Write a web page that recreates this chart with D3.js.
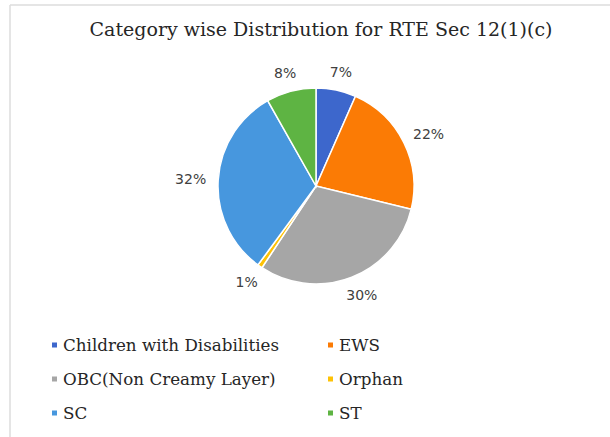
<!DOCTYPE html>
<html><head><meta charset="utf-8">
<script src="https://cdn.jsdelivr.net/npm/d3@7"></script>
<style>html,body{margin:0;padding:0;background:#fff;}</style>
</head><body>
<svg id="chart" width="610" height="437"></svg>
<script>
const categories = ["Children with Disabilities","EWS","OBC(Non Creamy Layer)","Orphan","SC","ST"];
const values = [6.6, 22.2, 30.5, 0.8, 31.7, 8.2];
const labels = ["7%","22%","30%","1%","32%","8%"];
const colors = ["#3d67cc","#fb7b05","#a6a6a6","#fec205","#4797de","#5eb443"];
const title = "Category wise Distribution for RTE Sec 12(1)(c)";

const svg = d3.select("#chart");
// frame
svg.append("line").attr("x1",10).attr("y1",5).attr("x2",610).attr("y2",5).attr("stroke","#dcdcdc").attr("stroke-width",1.5);
svg.append("line").attr("x1",10).attr("y1",5).attr("x2",10).attr("y2",437).attr("stroke","#dcdcdc").attr("stroke-width",1.5);

const t = svg.append("text").attr("x",321).attr("y",36).attr("text-anchor","middle")
  .attr("font-family","DejaVu Serif, serif").attr("font-size",16).attr("fill","#262626").text(title);
const tw = t.node().getComputedTextLength();
t.attr("font-size", 16*463/tw);

const cx=316, cy=186, r=98;
const pie = d3.pie().sort(null).value(d=>d.v);
const data = pie(categories.map((c,i)=>({c, v:values[i], l:labels[i], col:colors[i]})));
const arc = d3.arc().innerRadius(0).outerRadius(r);
const g = svg.append("g").attr("transform",`translate(${cx},${cy})`);
g.selectAll("path").data(data).join("path").attr("d",arc)
  .attr("fill",d=>d.data.col).attr("stroke","#fff").attr("stroke-width",1.5);

const lab = g.selectAll("text").data(data).join("text")
  .attr("text-anchor","middle").attr("dy","0.36em")
  .attr("font-family","DejaVu Sans, sans-serif").attr("font-size",14).attr("fill","#404040")
  .text(d=>d.data.l);
lab.each(function(d){
  const w = this.getComputedTextLength(), h = 14;
  const a = (d.startAngle+d.endAngle)/2, s=Math.sin(a), c=Math.cos(a), R=r+12;
  const x = R*s + (w/2)*s, y = -R*c - (h/2)*c;
  d3.select(this).attr("transform",`translate(${x},${y})`);
});

// legend
const lg = svg.append("g");
const colX=[52,328], rowY=[345,379,413];
const items=[];
categories.forEach((c,i)=>{
  const x=colX[i%2], y=rowY[Math.floor(i/2)];
  lg.append("rect").attr("x",x).attr("y",y-2.5).attr("width",5).attr("height",5).attr("fill",colors[i]);
  items.push(lg.append("text").attr("x",x+11).attr("y",y).attr("dy","0.35em")
    .attr("font-family","DejaVu Serif, serif").attr("font-size",15).attr("fill","#262626").text(c));
});
const lw = items[0].node().getComputedTextLength();
items.forEach(it=>it.attr("font-size",15*216/lw));
</script>
</body></html>
